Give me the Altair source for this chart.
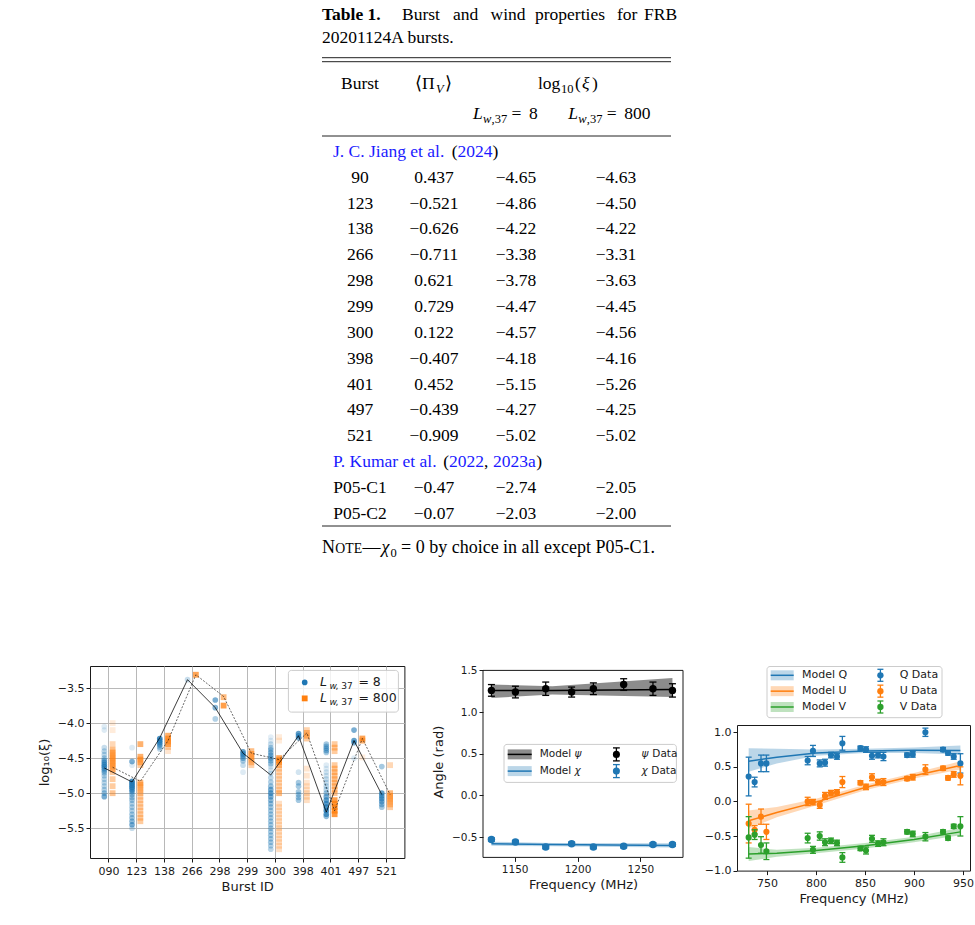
import altair as alt
import pandas as pd

SERIF = "Liberation Serif"
SANS = "DejaVu Sans"
INK = "#1a1a1a"
LINK = "#1a1aff"
BLUE, ORANGE, GREEN = "#1f77b4", "#ff7f0e", "#2ca02c"
MINUS_EXPR = "replace(format(datum.value, '.1f'), '-', '\u2212')"

# ======================= Table 1 data =======================
JIANG_BURSTS = ["90", "123", "138", "266", "298", "299", "300", "398", "401", "497", "521"]
JIANG_PIV = [0.437, -0.521, -0.626, -0.711, 0.621, 0.729, 0.122, -0.407, 0.452, -0.439, -0.909]
JIANG_L8 = [-4.65, -4.86, -4.22, -3.38, -3.78, -4.47, -4.57, -4.18, -5.15, -4.27, -5.02]
JIANG_L800 = [-4.63, -4.50, -4.22, -3.31, -3.63, -4.45, -4.56, -4.16, -5.26, -4.25, -5.02]
KUMAR_BURSTS = ["P05-C1", "P05-C2"]
KUMAR_PIV = [-0.47, -0.07]
KUMAR_L8 = [-2.74, -2.03]
KUMAR_L800 = [-2.05, -2.00]

# ======================= Panel (a): burst wind strength =======================
BURST_IDS = ["090", "123", "138", "266", "298", "299", "300", "398", "401", "497", "521"]
L8_SAMPLES = {
    "090": [-4.05, -4.10, -4.35, -4.40, -4.45, -4.50, -4.53, -4.56, -4.59, -4.62, -4.65, -4.68, -4.71, -4.75, -4.80, -4.85, -4.90, -4.95, -5.00, -5.05],
    "123": [-4.35, -4.55, -4.60, -4.83, -4.86, -4.89, -4.92, -4.95, -4.98, -5.02, -5.06, -5.10, -5.15, -5.20, -5.25, -5.30, -5.35, -5.40, -5.45, -5.50],
    "138": [-4.22, -4.25, -4.28, -4.31, -4.34, -4.37],
    "266": [-3.38],
    "298": [-3.67, -3.78, -3.94],
    "299": [-4.41, -4.44, -4.47, -4.50, -4.54, -4.60, -4.70],
    "300": [-4.20, -4.25, -4.30, -4.35, -4.38, -4.42, -4.46, -4.50, -4.54, -4.58, -4.62, -4.67, -4.72, -4.78, -4.84, -4.90, -4.95, -5.00, -5.05, -5.10, -5.15, -5.20, -5.25, -5.30, -5.35, -5.40, -5.45, -5.50, -5.55, -5.60, -5.65, -5.70, -5.75, -5.80],
    "398": [-4.15, -4.18, -4.21, -4.70, -4.85, -4.90, -4.98, -5.02, -5.06, -5.10],
    "401": [-4.30, -4.33, -4.36, -4.39, -4.42, -4.60, -4.65, -4.70, -4.75, -4.80, -4.85, -4.90, -4.95, -5.00, -5.05, -5.10, -5.15, -5.20, -5.25, -5.30, -5.33],
    "497": [-4.10, -4.25, -4.28, -4.50],
    "521": [-4.62, -5.00, -5.04, -5.08, -5.12, -5.16, -5.20],
}
L8_ALPHA = {
    "090": [.15, .15, .25, .3, .3, .35, .5, .6, .7, .7, .6, .5, .4, .35, .3, .3, .3, .35, .45, .6],
    "123": [.15, .6, .15, .8, .85, .85, .8, .7, .6, .45, .4, .4, .35, .35, .35, .4, .45, .5, .6, .25],
    "138": [.8, .8, .7, .6, .4, .3],
    "266": [.25],
    "298": [.6, .55, .35],
    "299": [.7, .7, .6, .5, .4, .25, .15],
    "300": [.12, .15, .25, .35, .45, .5, .55, .55, .5, .4, .2, .2, .25, .3, .35, .45, .6, .65, .6, .5, .45, .4, .4, .4, .4, .4, .4, .4, .4, .4, .4, .4, .35, .3],
    "398": [.7, .7, .6, .2, .4, .4, .4, .4, .4, .4],
    "401": [.4, .45, .5, .5, .4, .15, .15, .2, .2, .25, .25, .3, .3, .4, .6, .7, .75, .8, .8, .7, .5],
    "497": [.6, .7, .6, .15],
    "521": [.4, .7, .7, .7, .6, .5, .4],
}
L800_SAMPLES = {
    "090": [-4.00, -4.10, -4.30, -4.38, -4.42, -4.46, -4.50, -4.54, -4.58, -4.62, -4.66, -4.70, -4.80, -4.90, -5.00],
    "123": [-4.30, -4.48, -4.52, -4.56, -4.60, -4.85, -4.88, -4.92, -4.96, -5.00, -5.05, -5.10, -5.15, -5.20, -5.25, -5.30, -5.35, -5.40],
    "138": [-4.18, -4.22, -4.26, -4.30, -4.34, -4.40],
    "266": [-3.31],
    "298": [-3.63, -3.75],
    "299": [-4.40, -4.44, -4.48, -4.52, -4.56, -4.60],
    "300": [-4.20, -4.25, -4.50, -4.53, -4.56, -4.60, -4.65, -4.70, -4.75, -4.80, -4.85, -4.90, -4.95, -5.00, -5.15, -5.20, -5.25, -5.30, -5.35, -5.40, -5.45, -5.50, -5.55, -5.60, -5.65, -5.70, -5.75, -5.80],
    "398": [-4.10, -4.14, -4.18, -4.22, -4.65, -4.75, -4.85, -4.90, -4.95, -5.00, -5.05, -5.10],
    "401": [-4.30, -4.35, -4.40, -4.60, -4.65, -4.70, -4.75, -4.80, -4.85, -4.90, -4.95, -5.00, -5.10, -5.15, -5.20, -5.25, -5.30],
    "497": [-4.22, -4.25, -4.49],
    "521": [-4.60, -5.00, -5.04, -5.08, -5.12, -5.16, -5.20],
}
L800_ALPHA = {
    "090": [.15, .15, .3, .5, .55, .6, .6, .6, .6, .6, .5, .4, .4, .4, .45],
    "123": [.6, .6, .6, .55, .4, .55, .5, .45, .45, .4, .35, .35, .35, .35, .35, .35, .4, .4],
    "138": [.6, .7, .7, .6, .4, .2],
    "266": [.7],
    "298": [.55, .75],
    "299": [.5, .55, .55, .5, .45, .35],
    "300": [.15, .15, .7, .7, .65, .5, .35, .3, .3, .3, .3, .3, .35, .5, .25, .25, .25, .25, .25, .25, .25, .25, .25, .25, .25, .25, .25, .25],
    "398": [.35, .5, .5, .4, .2, .2, .2, .2, .2, .25, .25, .25],
    "401": [.4, .45, .4, .4, .45, .45, .45, .45, .45, .45, .45, .45, .75, .8, .85, .85, .8],
    "497": [.7, .6, .15],
    "521": [.3, .55, .55, .55, .5, .45, .4],
}
L8_BEST = [-4.64, -4.84, -4.21, -3.38, -3.78, -4.43, -4.74, -4.18, -5.27, -4.25, -5.02]
L800_BEST = [-4.63, -4.83, -4.25, -3.31, -3.62, -4.43, -4.52, -4.14, -5.25, -4.22, -5.02]

# ======================= Panel (b): angles =======================
ANG_FREQ = [1131.5, 1150.6, 1174.7, 1195.3, 1212.6, 1236.7, 1260.0, 1275.5]
PSI = [1.26, 1.24, 1.28, 1.24, 1.28, 1.33, 1.28, 1.26]
PSI_ERR = [0.07, 0.07, 0.08, 0.06, 0.07, 0.07, 0.08, 0.08]
CHI = [-0.53, -0.56, -0.62, -0.58, -0.62, -0.61, -0.59, -0.59]
CHI_ERR = [0.02, 0.02, 0.02, 0.02, 0.02, 0.02, 0.02, 0.02]
ANG_MODEL_FREQ = [1131.5, 1180.0, 1275.5]
PSI_MODEL = [1.26, 1.26, 1.27]
PSI_LO = [1.17, 1.21, 1.18]
PSI_HI = [1.33, 1.31, 1.41]
CHI_MODEL = [-0.58, -0.59, -0.60]
CHI_LO = [-0.605, -0.61, -0.625]
CHI_HI = [-0.555, -0.57, -0.575]

# ======================= Panel (c): Stokes Q, U, V =======================
QUV_FREQ = [731.3, 737.4, 743.9, 749.4, 791.5, 796.9, 803.8, 809.2, 815.3, 821.4, 826.9, 845.3,
            851.0, 857.1, 863.3, 868.8, 892.9, 898.7, 911.6, 929.6, 934.7, 940.5, 947.3]
Q_DATA = [0.36, 0.28, 0.55, 0.55, 0.59, 0.73, 0.55, 0.56, 0.67, 0.65, 0.84, 0.77,
          0.75, 0.66, 0.67, 0.65, 0.67, 0.68, 1.00, 0.75, 0.70, 0.65, 0.55]
Q_ERR = [0.28, 0.07, 0.12, 0.12, 0.06, 0.08, 0.05, 0.05, 0.04, 0.04, 0.10, 0.03,
         0.04, 0.05, 0.04, 0.06, 0.03, 0.04, 0.06, 0.03, 0.03, 0.04, 0.14]
U_DATA = [-0.32, -0.41, -0.22, -0.44, 0.00, -0.01, -0.05, 0.08, 0.12, 0.13, 0.28, 0.27,
          0.21, 0.35, 0.28, 0.28, 0.33, 0.35, 0.46, 0.48, 0.34, 0.39, 0.37]
U_ERR = [0.28, 0.06, 0.11, 0.11, 0.06, 0.04, 0.05, 0.05, 0.04, 0.04, 0.08, 0.03,
         0.04, 0.05, 0.04, 0.05, 0.03, 0.04, 0.07, 0.03, 0.03, 0.04, 0.13]
V_DATA = [-0.52, -0.48, -0.63, -0.72, -0.53, -0.70, -0.50, -0.59, -0.57, -0.60, -0.81, -0.68,
          -0.71, -0.54, -0.61, -0.59, -0.44, -0.47, -0.51, -0.44, -0.53, -0.36, -0.36]
V_ERR = [0.30, 0.07, 0.12, 0.12, 0.07, 0.05, 0.06, 0.05, 0.04, 0.04, 0.07, 0.03,
         0.05, 0.05, 0.04, 0.05, 0.03, 0.04, 0.06, 0.03, 0.03, 0.03, 0.14]
QUV_MODEL_FREQ = [731.3, 760.0, 800.0, 850.0, 900.0, 947.3]
Q_MODEL = [0.58, 0.64, 0.70, 0.73, 0.74, 0.735]
Q_LO = [0.43, 0.55, 0.66, 0.70, 0.70, 0.68]
Q_HI = [0.77, 0.76, 0.75, 0.76, 0.78, 0.81]
U_MODEL = [-0.28, -0.16, -0.01, 0.20, 0.37, 0.52]
U_LO = [-0.39, -0.23, -0.06, 0.16, 0.33, 0.46]
U_HI = [-0.13, -0.08, 0.04, 0.24, 0.41, 0.58]
V_MODEL = [-0.76, -0.75, -0.71, -0.64, -0.55, -0.44]
V_LO = [-0.86, -0.80, -0.75, -0.68, -0.59, -0.49]
V_HI = [-0.66, -0.70, -0.67, -0.60, -0.51, -0.38]
STOKES = ["Q", "U", "V"]
STOKES_COLORS = [BLUE, ORANGE, GREEN]

# ======================= helpers =======================
X0 = 37   # page left padding
TX = 90   # absolute x of the table panel's origin (aligned with panel (a) plot)
ONE = pd.DataFrame({"k": [0]})


def txt(text, x, y, size, font=SANS, color=INK, style="normal", weight="normal",
        align="left", baseline="middle"):
    return alt.Chart(ONE).mark_text(
        text=text, font=font, fontSize=size, color=color, fontStyle=style,
        fontWeight=weight, align=align, baseline=baseline
    ).encode(x=alt.value(x), y=alt.value(y))


def ttxt(text, x, y, size=17.5, **kw):
    """Serif table text at absolute page x."""
    kw.setdefault("color", "black")
    return txt(text, x - TX, y, size, font=SERIF, **kw)


def hline(x1, x2, y, color=INK, width=1.0, opacity=1.0):
    return alt.Chart(ONE).mark_rule(color=color, strokeWidth=width, opacity=opacity).encode(
        x=alt.value(x1), x2=alt.value(x2), y=alt.value(y))


def vline(x, y1, y2, color=INK, width=1.0):
    return alt.Chart(ONE).mark_rule(color=color, strokeWidth=width).encode(
        x=alt.value(x), y=alt.value(y1), y2=alt.value(y2))


def rect(x1, x2, y1, y2, fill, opacity=1.0, stroke=None, radius=0, swidth=1):
    kw = dict(fill=fill, fillOpacity=opacity, cornerRadius=radius)
    if stroke:
        kw.update(stroke=stroke, strokeWidth=swidth)
    return alt.Chart(ONE).mark_rect(**kw).encode(
        x=alt.value(x1), x2=alt.value(x2), y=alt.value(y1), y2=alt.value(y2))


def dot(x, y, color, size, shape="circle"):
    return alt.Chart(ONE).mark_point(shape=shape, filled=True, size=size, color=color, opacity=1).encode(
        x=alt.value(x), y=alt.value(y))


def fmt(v, d):
    return f"{v:.{d}f}".replace("-", "\u2212")


# ======================= Table chart =======================
rows = []
for k, b in enumerate(JIANG_BURSTS):
    rows.append(dict(row=k, burst=b, piv=fmt(JIANG_PIV[k], 3),
                     l8=fmt(JIANG_L8[k], 2), l800=fmt(JIANG_L800[k], 2)))
for j, b in enumerate(KUMAR_BURSTS):
    rows.append(dict(row=len(JIANG_BURSTS) + 1 + j, burst=b, piv=fmt(KUMAR_PIV[j], 2),
                     l8=fmt(KUMAR_L8[j], 2), l800=fmt(KUMAR_L800[j], 2)))
table_df = pd.DataFrame(rows)

ROW_Y = alt.Scale(domain=[-1, 13], range=[150.85, 512.75], zero=False, nice=False)
FS = 17.5


def row_y(k):
    return 176.7 + 25.85 * k


table_layers = []
for col, cx in [("burst", 360), ("piv", 434), ("l8", 516), ("l800", 616)]:
    table_layers.append(
        alt.Chart(table_df).mark_text(font=SERIF, fontSize=FS, color="black", align="center",
                                      baseline="middle").encode(
            x=alt.value(cx - TX), y=alt.Y("row:Q", scale=ROW_Y, axis=None), text=f"{col}:N"))

# caption
table_layers.append(ttxt("Table 1.", 322, 13.5, weight="bold"))
for word, wx in zip(["Burst", "and", "wind", "properties", "for", "FRB"], [402, 453, 490.5, 535, 617, 644]):
    table_layers.append(ttxt(word, wx, 13.5))
table_layers.append(ttxt("20201124A bursts.", 322, 37))
# rules
for yy in [56.7, 60.7, 135, 525]:
    table_layers.append(hline(322 - TX, 671 - TX, yy, color="#222222", width=1.0))
# header
HY = 83
table_layers += [
    ttxt("Burst", 360, HY, align="center"),
    ttxt("\u27e8\u03a0", 415, HY),
    ttxt("V", 436, HY + 4.5, 12.5, style="italic"),
    ttxt("\u27e9", 445, HY),
    ttxt("log", 538, HY),
    ttxt("10", 561, HY + 4.5, 12.5),
    ttxt("(", 575, HY),
    ttxt("\u03be", 582, HY, style="italic"),
    ttxt(")", 592, HY),
]
LY = 113
for lx, val in [(473, "8"), (568.3, "800")]:
    table_layers += [
        ttxt("L", lx, LY, style="italic"),
        ttxt("w", lx + 10, LY + 4.5, 12.5, style="italic"),
        ttxt(",37", lx + 18.5, LY + 4.5, 12.5),
        ttxt("=", lx + 38.5, LY),
        ttxt(val, lx + 56, LY),
    ]
# group headers
jy, ky = row_y(-1), row_y(11)
table_layers += [
    ttxt("J. C. Jiang et al.", 333, jy, color=LINK),
    ttxt("(", 451.7, jy),
    ttxt("2024", 457.5, jy, color=LINK),
    ttxt(")", 492.5, jy),
    ttxt("P. Kumar et al.", 333, ky, color=LINK),
    ttxt("(", 443.3, ky),
    ttxt("2022", 449.1, ky, color=LINK),
    ttxt(",", 484.1, ky),
    ttxt("2023a", 493, ky, color=LINK),
    ttxt(")", 536.2, ky),
]
# note (N + small-caps OTE, em dash, chi_0, rest of the sentence)
NY = 547
NFS = 18
table_layers += [
    ttxt("N", 322, NY, NFS),
    ttxt("OTE", 335.3, NY + 0.9, 13.8),
    ttxt("\u2014", 362.5, NY, NFS),
    ttxt("\u03c7", 381.5, NY, NFS, style="italic"),
    ttxt("0", 390.5, NY + 4.5, 12.5),
    ttxt("= 0 by choice in all except P05-C1.", 401, NY, NFS),
]

table_chart = alt.layer(*table_layers).properties(
    width=600, height=647, view=alt.ViewBackground(stroke="transparent"))

# ======================= Panel (a) chart =======================
pts = []
for i, b in enumerate(BURST_IDS):
    for v, a in zip(L8_SAMPLES[b], L8_ALPHA[b]):
        pts.append(dict(x=i - 0.15, y=v, a=a, s="L8"))
    for v, a in zip(L800_SAMPLES[b], L800_ALPHA[b]):
        pts.append(dict(x=i + 0.15, y=v, a=a, s="L800"))
pts_df = pd.DataFrame(pts)
best_df = pd.DataFrame({
    "x8": [i - 0.15 for i in range(len(BURST_IDS))], "y8": L8_BEST,
    "x800": [i + 0.15 for i in range(len(BURST_IDS))], "y800": L800_BEST,
})

LEFT_W, LEFT_H = 314.4, 192
ids_expr = "[" + ",".join(f"'{b}'" for b in BURST_IDS) + "][datum.value]"
a_xscale = alt.Scale(domain=[-0.665, 10.665], nice=False, zero=False)
a_yscale = alt.Scale(domain=[-5.925, -3.185], nice=False, zero=False)
a_xaxis = alt.Axis(values=list(range(len(BURST_IDS))), labelExpr=ids_expr, title="Burst ID",
                   grid=True, gridColor="#b8b8b8", gridWidth=1, labelFontSize=11,
                   titleFontSize=13, titlePadding=4, labelPadding=3)
a_yaxis = alt.Axis(values=[-5.5, -5.0, -4.5, -4.0, -3.5], labelExpr=MINUS_EXPR,
                   title="log\u2081\u2080(\u03be)", grid=True, gridColor="#b8b8b8", gridWidth=1,
                   labelFontSize=11, titleFontSize=13, titlePadding=6, labelPadding=2)


def AX(f):
    return alt.X(f, type="quantitative", scale=a_xscale, axis=a_xaxis)


def AY(f):
    return alt.Y(f, type="quantitative", scale=a_yscale, axis=a_yaxis)


blue_pts = alt.Chart(pts_df).transform_filter(alt.datum.s == "L8").mark_point(
    shape="circle", filled=True, size=32, color=BLUE).encode(
    x=AX("x"), y=AY("y"), opacity=alt.Opacity("a:Q", scale=None))
orange_pts = alt.Chart(pts_df).transform_filter(alt.datum.s == "L800").mark_point(
    shape="square", filled=True, size=34, color=ORANGE).encode(
    x=AX("x"), y=AY("y"), opacity=alt.Opacity("a:Q", scale=None))
line8 = alt.Chart(best_df).mark_line(color="black", strokeWidth=0.9, opacity=0.85).encode(
    x=AX("x8"), y=AY("y8"))
line800 = alt.Chart(best_df).mark_line(color="black", strokeWidth=0.7, opacity=0.85,
                                       strokeDash=[2, 1.5]).encode(x=AX("x800"), y=AY("y800"))

a_leg = [
    rect(198.4, 308.4, 4.4, 46.1, "white", opacity=0.8, stroke="#cccccc", radius=3),
    dot(214.7, 16.4, BLUE, 32),
    dot(214.7, 32.4, ORANGE, 34, shape="square"),
]
for yy, val in [(16.4, "8"), (32.4, "800")]:
    a_leg += [
        txt("L", 230, yy, 12.5, style="italic"),
        txt("w", 239.5, yy + 3.5, 9, style="italic"),
        txt(", 37", 245.5, yy + 3.5, 9),
        txt("= " + val, 268.4, yy, 12.5),
    ]

left_chart = alt.layer(blue_pts, orange_pts, line8, line800, *a_leg).properties(
    width=LEFT_W, height=LEFT_H)

# ======================= Panel (b) chart =======================
MID_W = 200
MID_TOP = 4.4            # frame starts a little below the row origin, as in the figure
MID_PX_PER_UNIT = 83.33
MID_H = 187 + MID_TOP
b_xscale = alt.Scale(domain=[1124.8, 1283.9], nice=False, zero=False)
b_yscale = alt.Scale(domain=[-0.744, 1.5 + MID_TOP / MID_PX_PER_UNIT], nice=False, zero=False)
b_xaxis = alt.Axis(values=[1150, 1200, 1250], format="d", title="Frequency (MHz)",
                   labelFontSize=10.5, titleFontSize=13, titlePadding=4, labelPadding=3)
b_yaxis = alt.Axis(values=[-0.5, 0.0, 0.5, 1.0, 1.5], labelExpr=MINUS_EXPR, title="Angle (rad)",
                   labelFontSize=10.5, titleFontSize=13, titlePadding=6, labelPadding=2)


def BX(f):
    return alt.X(f, type="quantitative", scale=b_xscale, axis=b_xaxis)


def BY(f):
    return alt.Y(f, type="quantitative", scale=b_yscale, axis=b_yaxis)


ang_df = pd.DataFrame({"f": ANG_FREQ, "psi": PSI, "chi": CHI,
                       "psi_lo": [v - e for v, e in zip(PSI, PSI_ERR)],
                       "psi_hi": [v + e for v, e in zip(PSI, PSI_ERR)],
                       "chi_lo": [v - e for v, e in zip(CHI, CHI_ERR)],
                       "chi_hi": [v + e for v, e in zip(CHI, CHI_ERR)]})
ang_model = pd.DataFrame({"f": ANG_MODEL_FREQ, "psi": PSI_MODEL, "psi_lo": PSI_LO, "psi_hi": PSI_HI,
                          "chi": CHI_MODEL, "chi_lo": CHI_LO, "chi_hi": CHI_HI})


def model_layers(df, key, color, band_op, X, Y):
    return [
        alt.Chart(df).mark_area(color=color, opacity=band_op, orient="vertical").encode(
            x=X("f"), y=Y(key + "_lo"), y2=alt.Y2(key + "_hi")),
        alt.Chart(df).mark_line(color=color, strokeWidth=1.5).encode(x=X("f"), y=Y(key)),
    ]


def data_layers(df, key, color, size, cap, X, Y):
    return [
        alt.Chart(df).mark_rule(color=color, strokeWidth=1.3).encode(
            x=X("f"), y=Y(key + "_lo"), y2=alt.Y2(key + "_hi")),
        alt.Chart(df).mark_rule(color=color, strokeWidth=1.3, xOffset=-cap, x2Offset=cap).encode(
            x=X("f"), x2=alt.X2("f"), y=Y(key + "_lo")),
        alt.Chart(df).mark_rule(color=color, strokeWidth=1.3, xOffset=-cap, x2Offset=cap).encode(
            x=X("f"), x2=alt.X2("f"), y=Y(key + "_hi")),
        alt.Chart(df).mark_point(color=color, filled=True, size=size, opacity=1).encode(
            x=X("f"), y=Y(key)),
    ]


b_layers = []
b_layers += model_layers(ang_model, "psi", "black", 0.45, BX, BY)
b_layers += model_layers(ang_model, "chi", BLUE, 0.3, BX, BY)
b_layers += data_layers(ang_df, "psi", "black", 55, 3.5, BX, BY)
b_layers += data_layers(ang_df, "chi", BLUE, 55, 3.5, BX, BY)

# legend (b)
LB = MID_TOP
b_layers.append(rect(21, 193.4, LB + 74, LB + 112, "white", opacity=0.8, stroke="#cccccc", radius=3))
for name, color, bop, yy, symw in [("\u03c8", "black", 0.45, LB + 84, 7.5), ("\u03c7", BLUE, 0.3, LB + 100.7, 6.5)]:
    b_layers += [
        rect(24.7, 48.7, yy - 5, yy + 5, color, opacity=bop),
        hline(24.7, 48.7, yy, color=color, width=1.5),
        txt("Model ", 56.7, yy, 10.5),
        txt(name, 91.6, yy, 10.5, style="italic"),
        vline(133.4, yy - 6.5, yy + 6.5, color=color, width=1.3),
        hline(130, 136.8, yy - 6.5, color=color, width=1.3),
        hline(130, 136.8, yy + 6.5, color=color, width=1.3),
        dot(133.4, yy, color, 50),
        txt(name, 158.4, yy, 10.5, style="italic"),
        txt("Data", 158.4 + symw + 3.4, yy, 10.5),
    ]
# frame of panel (b)
b_layers.append(rect(0, MID_W, MID_TOP, MID_H, "white", opacity=0, stroke=INK))

mid_chart = alt.layer(*b_layers).properties(
    width=MID_W, height=MID_H, view=alt.ViewBackground(stroke="transparent"))

# ======================= Panel (c) chart =======================
RIGHT_W, RIGHT_H = 233, 145.6
c_xscale = alt.Scale(domain=[719.4, 957.1], nice=False, zero=False)
c_yscale = alt.Scale(domain=[-1.0, 1.105], nice=False, zero=False)
c_xaxis = alt.Axis(values=[750, 800, 850, 900, 950], format="d", title="Frequency (MHz)",
                   labelFontSize=11, titleFontSize=13, titlePadding=4, labelPadding=3)
c_yaxis = alt.Axis(values=[-1.0, -0.5, 0.0, 0.5, 1.0], labelExpr=MINUS_EXPR, title=None,
                   labelFontSize=11, labelPadding=2)


def CX(f):
    return alt.X(f, type="quantitative", scale=c_xscale, axis=c_xaxis)


def CY(f):
    return alt.Y(f, type="quantitative", scale=c_yscale, axis=c_yaxis)


quv_df = pd.DataFrame({"f": QUV_FREQ})
quv_model = pd.DataFrame({"f": QUV_MODEL_FREQ})
for key, vals, errs, mod, lo, hi in [("Q", Q_DATA, Q_ERR, Q_MODEL, Q_LO, Q_HI),
                                     ("U", U_DATA, U_ERR, U_MODEL, U_LO, U_HI),
                                     ("V", V_DATA, V_ERR, V_MODEL, V_LO, V_HI)]:
    quv_df[key] = vals
    quv_df[key + "_lo"] = [v - e for v, e in zip(vals, errs)]
    quv_df[key + "_hi"] = [v + e for v, e in zip(vals, errs)]
    quv_model[key] = mod
    quv_model[key + "_lo"] = lo
    quv_model[key + "_hi"] = hi

c_layers = []
for key, color in zip(STOKES, STOKES_COLORS):
    c_layers += model_layers(quv_model, key, color, 0.3, CX, CY)
for key, color in zip(STOKES, STOKES_COLORS):
    c_layers += data_layers(quv_df, key, color, 38, 3, CX, CY)
right_plot = alt.layer(*c_layers).properties(width=RIGHT_W, height=RIGHT_H)

# legend (c) as its own strip above the plot
leg_df = pd.DataFrame({"i": list(range(len(STOKES))), "s": STOKES,
                       "model": ["Model " + s for s in STOKES],
                       "data": [s + " Data" for s in STOKES]})
LEG_Y = alt.Y("i:Q", scale=alt.Scale(domain=[0, 2], range=[9.3, 41], zero=False, nice=False), axis=None)
LEG_C = alt.Color("s:N", scale=alt.Scale(domain=STOKES, range=STOKES_COLORS), legend=None)
leg_base = alt.Chart(leg_df)
c_leg = alt.layer(
    rect(30, 205, 0.5, 51.7, "white", opacity=0.8, stroke="#cccccc", radius=3),
    leg_base.mark_rect(opacity=0.3, yOffset=-5, y2Offset=5).encode(
        x=alt.value(33.7), x2=alt.value(56.7), y=LEG_Y, y2=alt.Y2("i"), color=LEG_C),
    leg_base.mark_rule(strokeWidth=1.5).encode(
        x=alt.value(33.7), x2=alt.value(56.7), y=LEG_Y, color=LEG_C),
    leg_base.mark_rule(strokeWidth=1.3, yOffset=-6, y2Offset=6).encode(
        x=alt.value(143.4), y=LEG_Y, y2=alt.Y2("i"), color=LEG_C),
    leg_base.mark_rule(strokeWidth=1.3, yOffset=-6).encode(
        x=alt.value(140.4), x2=alt.value(146.4), y=LEG_Y, color=LEG_C),
    leg_base.mark_rule(strokeWidth=1.3, yOffset=6).encode(
        x=alt.value(140.4), x2=alt.value(146.4), y=LEG_Y, color=LEG_C),
    leg_base.mark_point(filled=True, size=40, opacity=1).encode(
        x=alt.value(143.4), y=LEG_Y, color=LEG_C),
    leg_base.mark_text(font=SANS, fontSize=11, color=INK, align="left", baseline="middle").encode(
        x=alt.value(65), y=LEG_Y, text="model:N"),
    leg_base.mark_text(font=SANS, fontSize=11, color=INK, align="left", baseline="middle").encode(
        x=alt.value(162.7), y=LEG_Y, text="data:N"),
).properties(width=RIGHT_W, height=52, view=alt.ViewBackground(stroke="transparent"))

right_col = alt.vconcat(c_leg, right_plot, spacing=5)

bottom = alt.hconcat(left_chart, alt.hconcat(mid_chart, right_col, spacing=19), spacing=27)

chart = alt.vconcat(table_chart, bottom, spacing=15).properties(
    padding={"left": X0, "top": 0, "right": 0, "bottom": 0},
    background="white",
).configure_view(
    stroke=INK, strokeWidth=1
).configure_axis(
    domain=False, tickColor=INK, tickSize=4, tickWidth=1, labelColor=INK, titleColor=INK,
    labelFont=SANS, titleFont=SANS, titleFontWeight="normal", grid=False
)

chart.save("out.html", embed_options={"renderer": "svg", "actions": False})
